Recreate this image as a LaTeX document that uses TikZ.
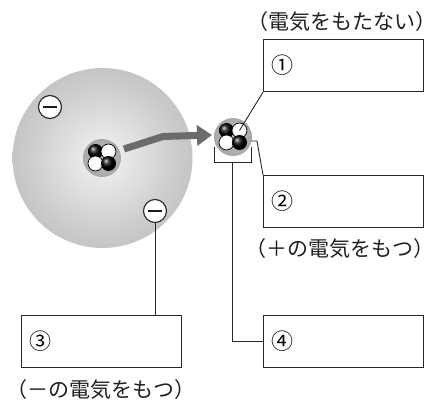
\documentclass[tikz,border=0pt]{standalone}
\usepackage{fontspec}
\setmainfont{Noto Sans CJK JP}
\usetikzlibrary{arrows.meta}

% soft grey electron cloud, light in the middle
\pgfdeclareradialshading{atomcloud}{\pgfpoint{0bp}{0bp}}{%
  color(0bp)=(black!7); color(6bp)=(black!9); color(22bp)=(black!21); color(40bp)=(black!31); color(50bp)=(black!39)}
% white nucleon with a soft grey edge
\pgfdeclareradialshading{whiteball}{\pgfpoint{-10bp}{10bp}}{%
  color(0bp)=(white); color(18bp)=(white); color(45bp)=(black!28); color(50bp)=(black!35)}
% halo round a nucleus
\pgfdeclareradialshading{nuchalo}{\pgfpoint{0bp}{0bp}}{%
  color(0bp)=(black!25); color(36bp)=(black!38); color(44bp)=(black!30); color(50bp)=(black!16)}
% electron disc
\pgfdeclareradialshading{elecdisc}{\pgfpoint{-8bp}{8bp}}{%
  color(0bp)=(white); color(22bp)=(white); color(50bp)=(black!22)}

\tikzset{
  infobox/.style={draw=black!85, line width=1.2pt, anchor=north west,
    minimum height=52pt, inner xsep=8pt, text width=144pt, align=left,
    font=\fontsize{22}{22}\selectfont},
  caption/.style={font=\fontsize{21}{21}\selectfont, text=black!88, inner sep=0pt},
  link/.style={draw=black!85, line width=0.9pt},
  electron/.style={circle, draw=black!85, line width=1.1pt, minimum size=23pt,
    inner sep=0pt, shading=elecdisc},
  minusbar/.style={line width=2.6pt, black!90},
  halo/.style={circle, minimum size=38pt, inner sep=0pt, shading=nuchalo},
  darkball/.style={circle, minimum size=15pt, inner sep=0pt, ball color=black},
  lightball/.style={circle, minimum size=15pt, inner sep=0pt, shading=whiteball,
    draw=black, line width=0.7pt},
}

% nucleus: halo with two dark and two light nucleons
\newcommand\drawnucleus[3]{%
  \node[halo] (#1) at (#2,#3) {};
  \node[darkball]  (#1tl) at (#2-6.5,#3-6.5) {};
  \node[lightball] (#1tr) at (#2+6.5,#3-6.5) {};
  \node[lightball] (#1bl) at (#2-6.5,#3+5.5) {};
  \node[darkball]  (#1br) at (#2+6.5,#3+5.5) {};
}

\begin{document}
\begin{tikzpicture}[x=1pt,y=-1pt]
\useasboundingbox (0,0) rectangle (438,406);

% atom
\shade[shading=atomcloud] (102.5,158) circle (90);
\node[electron] (e1) at (50,107) {};
\draw[minusbar] ([xshift=-7pt]e1.center) -- ([xshift=7pt]e1.center);
\node[electron] (e2) at (155,211) {};
\draw[minusbar] ([xshift=-7pt]e2.center) -- ([xshift=7pt]e2.center);
\drawnucleus{nA}{102}{158}

% arrow towards the enlarged nucleus
\coordinate (a0) at (124,149);
\coordinate (a1) at (163,136.5);
\coordinate (a2) at (212,135);
\draw[black!58, line width=7pt, line join=miter,
  -{Triangle[length=15pt,width=20pt]}] (a0) -- (a1) -- (a2);

\drawnucleus{nB}{233}{137}

% answer boxes
\node[infobox] (b1) at (263,39) {①};
\node[infobox] (b2) at (263,175) {②};
\node[infobox] (b3) at (21,315) {③};
\node[infobox] (b4) at (263,315) {④};

% captions
\node[caption] (c1) at (342,22) {（電気をもたない）};
\node[caption] (c2) at (340,249) {（＋の電気をもつ）};
\node[caption] (c3) at (101,390) {（－の電気をもつ）};

% leader lines
\draw[link] (b1.south west) -- (nBtr.center);
\coordinate (k1) at (251,141);
\coordinate (k2) at (257,141);
\draw[link] (k1) -- (k2) -- (b2.north west);
\coordinate (q1) at (214,147);
\coordinate (q2) at (214,162);
\coordinate (q3) at (251,162);
\coordinate (q4) at (251,147);
\coordinate (qm) at (232.5,162);
\draw[link] (q1) -- (q2) -- (q3) -- (q4);
\draw[link] (qm) |- (b4.west);
\draw[link] (e2.south) -- (e2.south |- b3.north);
\end{tikzpicture}
\end{document}
